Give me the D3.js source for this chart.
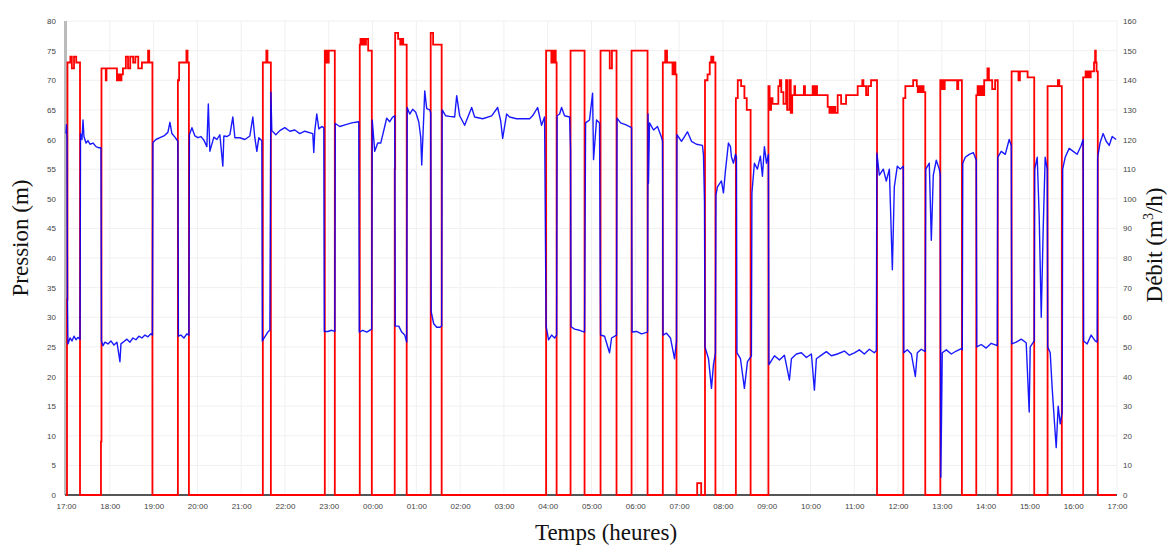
<!DOCTYPE html>
<html>
<head>
<meta charset="utf-8">
<script src="https://cdn.jsdelivr.net/npm/d3@7"></script>
<style>
  body { margin: 0; background: #fff; }
  svg { display: block; }
  .tick text { font-family: "Liberation Sans", Arial, sans-serif; font-size: 8px; fill: #444; }
  .title { font-family: "Liberation Serif", "Times New Roman", serif; font-size: 23px; fill: #111; }
</style>
</head>
<body>
<div id="chart"></div>
<script>
// minutes after 17:00, pressure in m (left axis)
const pressure = [
  [0,61],[0.7,62.5],[1.4,60],[2,33],[2.7,25.5],[5.5,26.5],[8.2,26],[11,26.8],[13.7,26.2],[16.4,26.6],[19.2,26.3],
  [19.9,61],[21.9,60],[23.3,63.3],[24.6,60.5],[27.4,59.4],[30.1,59.8],[32.9,59.2],[37,59.4],[41.1,58.8],[45.2,58.6],[47.9,58.6],
  [48.6,26],[50.7,25.2],[53.4,25.8],[57.5,25.5],[61.6,26],[65.7,25.3],[69.8,25.8],[73.9,22.5],[75.3,25.5],[79.4,25.9],[83.5,26.3],
  [87.6,25.8],[91.7,26.5],[95.8,26.2],[99.9,26.8],[104,26.5],[108.2,27],[112.3,26.7],[116.4,27.2],[118.4,27],
  [119.1,59.5],[123.2,60],[128.7,60.3],[134.2,60.6],[139.6,61.2],[142.4,62.9],[145.1,61],[149.2,60.4],[153.3,59.7],
  [154,26.8],[157.4,27],[161.5,26.5],[165.6,27.2],[168.4,27],
  [169.1,60.8],[172.5,62],[176.6,60.6],[180.7,60.3],[184.8,60.5],[188.9,59.9],[193,58.8],[195,66],[197.1,58],[202.6,60.4],
  [206.7,60],[210.8,60.8],[214.9,55.5],[216.3,60.6],[220.4,60.5],[224.5,60.8],[228.6,63.8],[231.4,60.3],[238.2,60.3],
  [245.1,60],[251.9,60.6],[256,63.8],[258.7,60.3],[261.5,58],[264.2,60.3],[268.3,59.8],
  [269,26],[272.4,26.7],[276.5,27.5],[279.3,27.8],
  [280.7,68],[282,61.5],[287.5,60.8],[293,61.5],[299.8,62],[306.7,61.4],[313.5,61.6],[320.3,61],[327.2,61.4],[338.1,61],
  [339.5,57.8],[340.9,61.5],[343.6,64.3],[346.4,61.8],[350.5,62.2],[353.2,62],
  [353.9,27.6],[358.7,27.6],[364.2,27.8],[368.3,27.6],
  [368.9,62.7],[375.1,62.2],[383.3,62.5],[391.5,62.8],[401.1,63],
  [401.8,27.5],[406.6,27.8],[412.1,27.5],[418.9,28],
  [419.6,63.3],[423,58],[427.1,59.4],[431.2,59.4],[436.7,62.2],[439.4,63.6],[443.6,63],[447.7,63.8],[450.4,64],
  [451.1,28.5],[455.9,28.5],[460,27.5],[464.1,27],[466.8,25.8],
  [467.5,65.4],[470.9,64.3],[475,65.1],[479.2,64.6],[483.3,63],[486,60.4],[487.4,55.7],[490.1,63.7],[491.5,68.2],[494.2,65.2],[498.3,65],[499.7,64.5],
  [500.4,30.9],[503.8,28.9],[507.9,28.3],[512,28.3],[514.7,28.5],
  [515.4,65],[520.2,64],[525.7,63.9],[532.5,63.8],[535.3,67.4],[539.4,64],[546.2,62.4],[555.8,65.4],[559.9,63.8],[570.9,63.5],
  [583.2,64],[591.4,65.4],[595.5,63.2],[598.3,60.2],[603.7,64.3],[607.8,63.8],[617.4,63.5],[635.2,63.5],[639.3,64],[646.2,65.4],
  [651.6,62.4],[655.7,63.8],
  [657.8,28.5],[661.2,26.2],[665.3,27],[669.4,26.5],[672.2,27],
  [672.9,64],[676.3,64.3],[679,65.4],[683.1,64],[690,63.8],[691.3,58.4],
  [692,28.4],[696.8,28],[703.7,27.8],[710.5,27.5],
  [711.9,62.8],[717.3,63.3],[721.5,67.8],[722.8,56.6],[726.9,63.3],[731,62.8],
  [732.4,27],[737.9,26.8],[744.7,24],[747.5,26.5],[754.3,27],
  [755,63.6],[759.8,62.8],[766.6,62.5],[774.9,62],
  [775.6,27.5],[781.7,27.6],[788.5,27.2],[796.8,27.5],
  [797.5,64.3],[798.1,52.6],[799.5,62.8],[805,61.6],[810.4,62.2],[815.9,60.4],[817.3,59.7],
  [818,27],[822.8,27.3],[828.2,26.5],[833.7,23],[836.5,26],
  [837.1,60.8],[843.3,59.7],[851.5,61.3],[857,59.7],[863.8,59.2],[872,59],[873.4,57.4],[874.8,49.5],
  [875.5,25],[880.3,23],[884.4,18],[887.1,22],[889.8,24],
  [890.5,50.6],[892.6,52],[898,53],[900.8,51],[903.5,54.7],[907.6,59.4],[910.4,58.8],[911.7,57.1],[914.5,56],[917.2,57.5],[918.6,57],
  [919.3,24],[924.1,23],[929.5,18],[933.7,22.5],[939.1,23.5],
  [939.8,51],[943.2,56],[947.3,55],[951.4,57.2],[954.2,53.8],[956.9,58.8],[959.7,56],[962.4,57.5],
  [963.1,22],[970.6,23.5],[977.5,22.8],[984.3,23.6],[991.2,19.4],[993.9,23],[1000.7,23.8],[1007.6,24],[1014.4,23.2],[1021.3,23.8],
  [1025.4,17.7],[1028.1,23],[1035,23.6],[1041.8,24.2],[1048.7,23.5],[1056.9,23.8],[1066.5,24.3],[1073.3,23.6],[1080.2,24],
  [1087,24.5],[1093.8,23.8],[1100.7,24.6],[1107.5,24],[1110.3,24.4],
  [1111,57.7],[1114.4,54],[1119.8,55],[1123.9,53],[1128.1,55],[1132.2,38],[1134.9,52],[1139,55.5],[1143.1,55],[1147.2,55.5],
  [1147.9,24],[1152.7,24.5],[1158.2,23.8],[1163.7,20],[1166.4,24],[1171.9,24.6],[1177.3,24.2],
  [1178,55],[1182.8,56],[1185.6,43],[1188.3,54],[1192.4,56.5],[1196.5,55],[1197.9,54],
  [1198.6,3],[1200.6,24],[1206.1,24.5],[1213,23.8],[1219.8,24.3],[1226.7,24.7],[1228,24.5],
  [1228.7,56],[1232.1,57],[1237.6,57.5],[1243.1,57.8],[1247.2,56.5],
  [1247.9,25],[1254,25.4],[1260.8,24.8],[1267.7,25.6],[1275.9,25.2],
  [1276.6,57],[1281.4,58],[1286.9,57.5],[1292.3,60],[1295.1,59],
  [1295.8,25.5],[1301.9,25.8],[1308.8,26.3],[1315.6,25.7],[1319.7,14],[1321.1,25],[1326.6,26],
  [1327.3,55],[1330.7,57],[1333.4,47],[1336.2,30],[1338.9,45],[1341.6,57],[1344.4,55],
  [1345.1,25],[1348.5,24],[1351.2,18],[1353.9,13],[1356.7,8],[1359.4,15],[1362.2,12],[1364.9,14],
  [1365.6,55],[1369,57],[1374.5,58.5],[1380,58],[1385.4,57.5],[1390.9,59],[1393.6,60],
  [1394.3,26],[1399.1,25.5],[1404.6,27],[1410.1,26],[1412.8,25.8],
  [1413.5,57],[1416.9,59.5],[1421,61],[1425.2,59.7],[1429.3,59],[1433.4,60.5],[1438.8,60]
];

// minutes after 17:00, flow in m3/h (right axis), value held until next step
const flow = [
  [0,0],[1.4,66],[2,146],[6,148],[8,144],[11,148],[14,146],[19.2,0],
  [47.9,18],[48.6,144],[54.5,140],[55.5,144],[69.8,140],[72,142],[74,140],[76,142],[78,144],[82,148],[85,144],[88,148],
  [92,146],[95,148],[99,144],[104,146],[112.5,150],[114,146],[118.4,0],
  [153.3,140],[155,146],[165,150],[166.5,146],[168.4,0],
  [269.7,146],[274.5,150],[276,146],[280.7,0],
  [354.6,150],[355.5,146],[357,150],[358.5,146],[360,150],[368.3,0],
  [402.5,152],[403.5,154],[405,152],[407,154],[409,152],[411,154],[414,150],[419,0],
  [450.4,110],[451,156],[455,154],[458,152],[460,154],[462,152],[466.8,0],
  [499.7,156],[503,152],[514.7,0],
  [657.8,150],[665,146],[666,150],[667,146],[668,150],[669,146],[670,150],[671,146],[672.2,0],
  [691.3,150],[710.5,0],
  [732.4,150],[745,144],[748,150],[754.3,0],
  [774.9,150],[796.8,0],
  [817.7,146],[821,150],[823.5,146],[831,142],[832,146],[833,142],[834,146],[835,142],[836.5,0],
  [864.8,4],[870.3,0],
  [875.5,140],[879,142],[882,146],[884,148],[885,146],[886,148],[887,146],[889.8,0],
  [917.8,134],[920.4,140],[925,138],[929.5,134],[932.7,130],[938,0],
  [962.4,138],[964,130],[966,134],[968,132],[973,132],[976,138],[978,140],[980,136],[983,132],[986.6,140],[988,130],
  [991,140],[993,129],[995,135],[998,138],[999,135],[1011,138],[1012.5,135],[1023,138],[1025,135],[1027,138],[1029,135],
  [1043.6,131],[1046,129],[1048,131],[1050,129],[1052,131],[1054,129],[1057.3,135],[1062,132],[1068.8,135],[1084.7,138],
  [1091,140],[1092.5,138],[1096.2,135],[1099,138],[1103,140],[1111.2,0],
  [1147.2,134],[1150,138],[1160.7,140],[1165.7,138],[1167,136],[1168,138],[1169,136],[1170,138],[1171,136],[1172,138],
  [1173,136],[1174,138],[1175,136],[1177.3,0],
  [1197.9,140],[1200,137],[1201,140],[1203,137],[1204,140],[1221,137],[1222.5,140],[1227.5,0],
  [1247.2,135],[1249,138],[1250,135],[1252,138],[1253,135],[1255,138],[1256,135],[1258,140],[1262.5,144],[1264.5,140],
  [1269,137],[1273,140],[1276.6,0],
  [1295.6,143],[1305,140],[1307,143],[1317.5,141],[1326.6,0],
  [1344.9,138],[1359,140],[1361,138],[1364.4,0],
  [1393.6,141],[1397,143],[1398,141],[1399,143],[1400,141],[1401,143],[1402,141],[1404,143],[1408.5,146],[1410,150],
  [1411,146],[1412,143],[1413.7,0],[1438.8,0]
];

const pressureTicks = d3.range(0, 81, 5);
const flowTicks = d3.range(0, 161, 10);

const width = 1167, height = 547;
const mLeft = 66, mRight = 1117, mTop = 21, mBottom = 495;
const t0 = new Date(2000, 0, 1, 17, 0);
const toDate = m => new Date(t0.getTime() + m * 60000);

const x = d3.scaleTime().domain([t0, toDate(1440)]).range([mLeft, mRight]);
const yP = d3.scaleLinear().domain([0, 80]).range([mBottom, mTop]);
const yQ = d3.scaleLinear().domain([0, 160]).range([mBottom, mTop]);

const svg = d3.select('#chart').append('svg')
    .attr('width', width)
    .attr('height', height);

// faint grid
const hours = x.ticks(d3.timeHour.every(1));
svg.append('g').selectAll('line')
    .data(hours)
    .join('line')
    .attr('x1', d => x(d)).attr('x2', d => x(d))
    .attr('y1', mTop).attr('y2', mBottom)
    .attr('stroke', '#f0f0f0');
svg.append('g').selectAll('line')
    .data(pressureTicks)
    .join('line')
    .attr('x1', mLeft).attr('x2', mRight)
    .attr('y1', d => yP(d)).attr('y2', d => yP(d))
    .attr('stroke', '#f0f0f0');

// axes
svg.append('g')
    .attr('transform', `translate(0,${mBottom})`)
    .call(d3.axisBottom(x).tickValues(hours).tickFormat(d3.timeFormat('%H:%M')).tickSize(0).tickPadding(8))
    .call(g => g.select('.domain').remove());
svg.append('g')
    .attr('transform', `translate(${mLeft},0)`)
    .call(d3.axisLeft(yP).tickValues(pressureTicks).tickSize(0).tickPadding(10))
    .call(g => g.select('.domain').remove());
svg.append('g')
    .attr('transform', `translate(${mRight},0)`)
    .call(d3.axisRight(yQ).tickValues(flowTicks).tickSize(0).tickPadding(6))
    .call(g => g.select('.domain').remove());

svg.append('rect')
    .attr('x', mLeft - 2).attr('y', mTop).attr('width', 3).attr('height', mBottom - mTop)
    .attr('fill', '#bbb');
svg.append('line')
    .attr('x1', mLeft - 1).attr('x2', mRight)
    .attr('y1', mBottom).attr('y2', mBottom)
    .attr('stroke', '#555').attr('stroke-width', 2);

// flow (red, step)
const flowLine = d3.line()
    .curve(d3.curveStepAfter)
    .x(d => x(toDate(d[0])))
    .y(d => yQ(d[1]));
svg.append('path')
    .datum(flow)
    .attr('fill', 'none')
    .attr('stroke', '#ff0000')
    .attr('stroke-width', 1.8)
    .attr('d', flowLine);

// pressure (blue)
const pLine = d3.line()
    .x(d => x(toDate(d[0])))
    .y(d => yP(d[1]));
svg.append('path')
    .datum(pressure)
    .attr('fill', 'none')
    .attr('stroke', '#0000ff')
    .attr('stroke-width', 1.4)
    .attr('stroke-opacity', 0.9)
    .attr('stroke-linejoin', 'round')
    .attr('d', pLine);

// titles
svg.append('text')
    .attr('class', 'title')
    .attr('transform', 'translate(28,238) rotate(-90)')
    .attr('text-anchor', 'middle')
    .text('Pression (m)');

const dt = svg.append('text')
    .attr('class', 'title')
    .attr('transform', 'translate(1162,245) rotate(-90)')
    .attr('text-anchor', 'middle');
dt.append('tspan').text('Débit (m');
dt.append('tspan').attr('dy', -9).attr('font-size', 14).text('3');
dt.append('tspan').attr('dy', 9).text('/h)');

svg.append('text')
    .attr('class', 'title')
    .attr('x', 606).attr('y', 540)
    .attr('text-anchor', 'middle')
    .attr('font-size', 24)
    .text('Temps (heures)');
</script>
</body>
</html>
